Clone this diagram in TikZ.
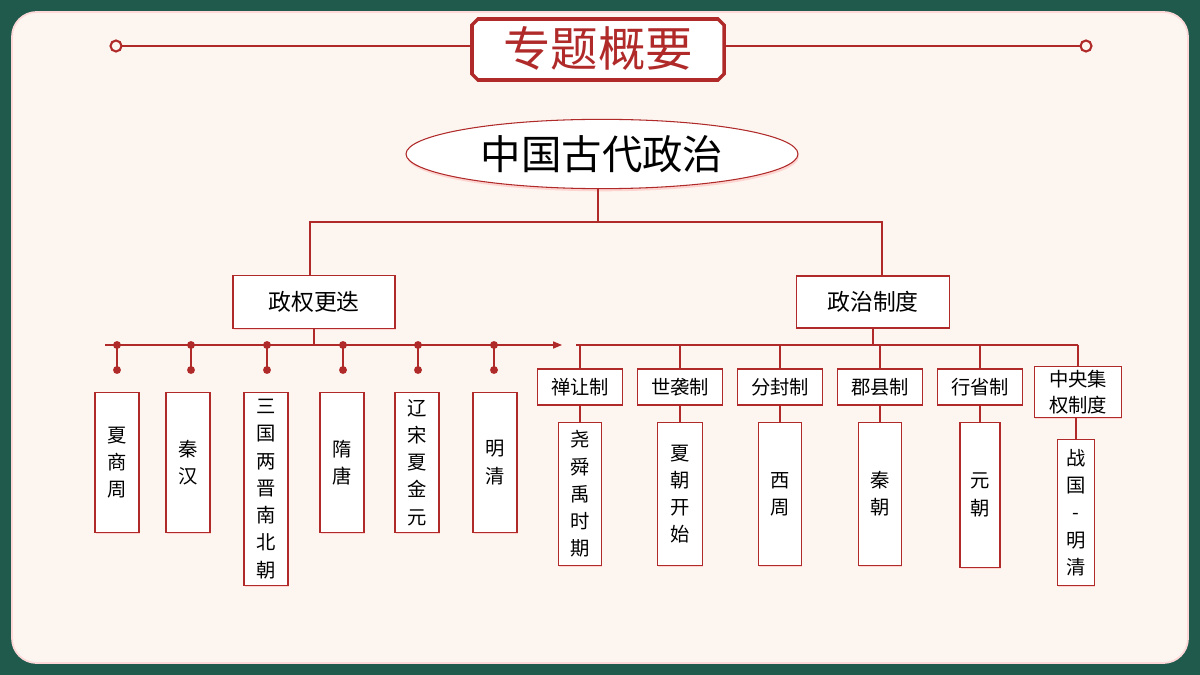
\documentclass[tikz,border=0pt]{standalone}
\usepackage{fontspec}
\setmainfont{Noto Sans CJK SC}
\usetikzlibrary{shapes.geometric,shadows,arrows.meta}
\definecolor{bgg}{HTML}{1F5A4C}
\definecolor{cream}{HTML}{FDF5EF}
\definecolor{dred}{HTML}{B02A2A}
\tikzset{
 bx/.style={draw=dred,fill=white,line width=0.6pt,inner sep=0pt,align=center,
   drop shadow={fill=red!40,opacity=0.35,shadow xshift=0.5pt,shadow yshift=-0.8pt}},
 vt/.style={bx,font=\fontsize{11}{15.5}\selectfont},
 ln/.style={dred,line width=0.6pt},
 dot/.style={circle,fill=dred,inner sep=0pt,minimum size=4.5pt}
}
\begin{document}
\begin{tikzpicture}[x=0.02cm,y=-0.02cm]
\fill[bgg] (0,0) rectangle (1200,675);
\fill[cream,draw=red!15,line width=1pt,rounded corners=14pt] (12,12) rectangle (1188,663);
% title
\draw[ln,line width=1.4pt] (122,46) -- (472,46);
\draw[ln,line width=1.4pt] (724,46) -- (1080,46);
\draw[dred,line width=1.2pt,fill=cream] (116,46) circle (5.5);
\draw[dred,line width=1.2pt,fill=cream] (1086,46) circle (5.5);
\node[minimum width=252*0.02cm,minimum height=62*0.02cm] (title) at (598,49)
  {\color{dred}\fontsize{27}{27}\selectfont 专题概要};
\draw[dred,line width=2pt,fill=white] (478,19) -- (718,19) -- (724,25) -- (724,74) -- (718,80) -- (478,80) -- (472,74) -- (472,25) -- cycle;
\node at (title.center) {\color{dred}\fontsize{27}{27}\selectfont 专题概要};
% root
\node[ellipse,draw=dred,fill=white,line width=0.6pt,minimum width=392*0.02cm,minimum height=68*0.02cm,
  drop shadow={fill=red!40,opacity=0.35,shadow xshift=0.5pt,shadow yshift=-1.5pt}] (root) at (602,154)
  {\fontsize{23}{23}\selectfont 中国古代政治};
\node[bx,minimum width=162*0.02cm,minimum height=53*0.02cm] (a) at (314,302) {\fontsize{13}{13}\selectfont 政权更迭};
\node[bx,minimum width=153*0.02cm,minimum height=52*0.02cm] (b) at (873,302) {\fontsize{13}{13}\selectfont 政治制度};
\coordinate (r0) at (598,222);
\draw[ln] (598,188) -- (r0);
\draw[ln] (a.north -| 310,0) |- (r0) -| (b.north -| 882,0);
% timeline
\coordinate (t0) at (105,345); \coordinate (t1) at (562,345);
\draw[ln,-{Triangle[length=5pt,width=4pt]}] (t0) -- (t1);
\draw[ln] (a.south) -- (a.south |- t0);
\foreach \x in {117,191,267,343,418,494}{
  \draw[ln,line width=1pt] (\x,345) -- (\x,370);
  \node[dot] at (\x,345) {}; \node[dot] at (\x,370) {};}
\foreach \x/\h/\t in {117/140/夏\\商\\周,188/140/秦\\汉,266/193/三\\国\\两\\晋\\南\\北\\朝,342/140/隋\\唐,417/140/辽\\宋\\夏\\金\\元,495/140/明\\清}{
  \node[vt,minimum width=44*0.02cm,minimum height=\h*0.02cm,anchor=north] at (\x,392) {\t};}
% right
\coordinate (h0) at (576,345); \coordinate (h1) at (1078,345);
\draw[ln] (h0) -- (h1);
\draw[ln] (b.south) -- (b.south |- h0);
\foreach \n/\x/\t/\l/\w/\hh/\y in {s1/580/禅让制/尧\\舜\\禹\\时\\期/43/143/422, s2/680/世袭制/夏\\朝\\开\\始/45/143/422,
  s3/780/分封制/西\\周/43/143/422, s4/880/郡县制/秦\\朝/43/143/422, s5/980/行省制/元\\朝/40/145/422}{
  \node[bx,minimum width=85*0.02cm,minimum height=36*0.02cm,font=\fontsize{11}{11}\selectfont] (\n) at (\x,387) {\t};
  \draw[ln] (\n.north |- h0) -- (\n.north);
  \node[vt,minimum width=\w*0.02cm,minimum height=\hh*0.02cm,anchor=north] (\n l) at (\n.south |- 0,\y) {\l};
  \draw[ln] (\n.south) -- (\n l.north);}
\node[bx,minimum width=87*0.02cm,minimum height=51*0.02cm,font=\fontsize{11}{15}\selectfont] (s6) at (1078,392) {中央集\\权制度};
\draw[ln] (s6.north |- h0) -- (s6.north);
\node[vt,minimum width=37*0.02cm,minimum height=146*0.02cm,anchor=north] (s6l) at (1076,439) {战\\国\\-\\明\\清};
\draw[ln] (s6.south -| 1076,0) -- (s6l.north);
\end{tikzpicture}
\end{document}
